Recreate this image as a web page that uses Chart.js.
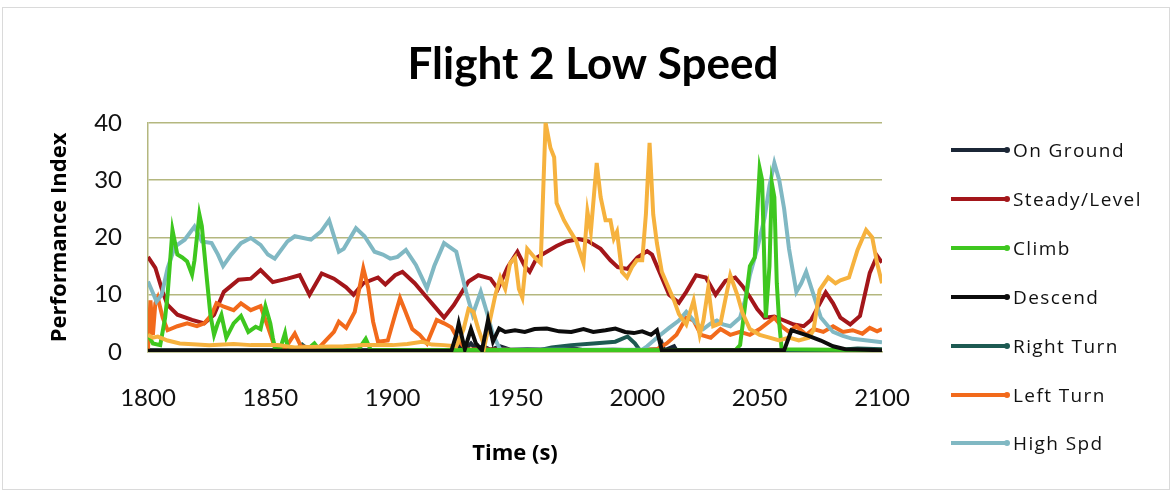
<!DOCTYPE html>
<html>
<head>
<meta charset="utf-8">
<title>Flight 2 Low Speed</title>
<script src="https://cdn.jsdelivr.net/npm/chart.js@4.4.1/dist/chart.umd.min.js"></script>
<style>
  body { margin: 0; background: #fff; }
  #wrap { position: relative; width: 1174px; height: 494px; }
  #frame { position: absolute; left: 2px; top: 7px; width: 1166px; height: 481px; border: 1px solid #dadada; }
  #legend { position: absolute; left: 951px; top: 0; }
  .item { position: absolute; left: 0; height: 26px; display: flex; align-items: center;
          font-family: 'Open Sans', sans-serif; font-size: 19px; letter-spacing: 1.4px; color: #111; white-space: nowrap; }
  .swatch { position: relative; width: 56px; height: 4px; margin-right: 6px; }
  .swatch::after { content: ''; position: absolute; right: -3px; top: -1px; width: 6px; height: 6px; border-radius: 3px; background: inherit; }
</style>
</head>
<body>
<div id="wrap">
  <div id="frame"></div>
  <canvas id="chart"></canvas>
  <div id="legend"></div>
</div>
<script>
// time (s), performance index
const onGround = [[1800,0.3],[1926,0.3],[1928,1.2],[1930,0.6],[1932,1.5],[1934,0.5],[1937,1],[1940,0.4],[1944,1],[1948,0.4],
  [1955,0.5],[1965,0.4],[1972,0.8],[1978,0.3],[1990,0.4],[2000,0.3],[2009,0.5],[2010,1.5],[2011,0.3],[2015,1],[2016,0.3],[2100,0.3]];

const steadyLevel = [[1800,16.6],[1803,14.7],[1806,10.5],[1808,8.2],[1812,6.5],[1818,5.6],[1823,5],[1827,6.5],[1831,10.5],[1837,12.6],
  [1842,12.8],[1846,14.3],[1851,12.2],[1857,12.8],[1862,13.4],[1866,10],[1871,13.7],[1876,12.8],[1881,11.3],[1884,10],
  [1888,12],[1894,13],[1897,11.8],[1901,13.4],[1904,14],[1909,12],[1913,10],[1917,8],[1921,6],[1925,8.2],
  [1931,12.3],[1935,13.4],[1940,12.8],[1943,11],[1947,14.8],[1951,17.5],[1954,15],[1956,14],[1959,16.5],[1963,17.5],
  [1967,18.5],[1971,19.3],[1976,19.7],[1980,19.3],[1985,18],[1989,16],[1992,14.8],[1996,14.5],[2000,16.5],[2004,17.6],
  [2006,17],[2009,14],[2013,10],[2017,8.6],[2020,10.5],[2024,13.4],[2028,13],[2032,10],[2036,12.4],[2040,13],
  [2043,11.5],[2046,9.6],[2049,7.5],[2052,6],[2056,6.2],[2060,5.5],[2064,4.8],[2068,4.5],[2071,5.6],[2074,8],
  [2077,10.4],[2080,8.5],[2083,6],[2087,4.8],[2091,6.3],[2095,13.8],[2098,16.8],[2100,15.6]];

const climb = [[1800,3],[1802,1.5],[1805,1.2],[1807,6],[1808,10],[1810,21.3],[1812,17],[1814,16.5],[1816,15.8],[1818,13.5],
  [1819,16],[1821,24],[1822,22],[1824,13],[1825.5,6.5],[1827,3],[1828.5,5],[1830,6.5],[1832,2.5],[1835,5],
  [1838,6.3],[1841,3.5],[1844,4.4],[1846,4],[1848,8],[1850,5],[1851,2.5],[1852,0.5],[1854,0.5],[1856,3.3],
  [1857,1],[1860,0.5],[1865,0.4],[1868,1.5],[1870,0.4],[1886,0.4],[1889,2.3],[1891,0.4],[2040,0.3],[2042,1.2],
  [2044,8],[2046,15],[2048,16.5],[2050,32],[2051,30],[2052.5,6],[2054,15],[2055,29.4],[2056,27],[2057,12],
  [2058,5],[2059,0.5],[2100,0.3]];

const descend = [[1800,0.2],[1924,0.2],[1926,3],[1927,5],[1929.5,0.5],[1932,4],[1934,1.5],[1936.5,0.3],[1939,5.6],[1941,1.8],
  [1943.5,4.1],[1946,3.5],[1950,3.8],[1954,3.5],[1958,4],[1963,4.1],[1968,3.6],[1973,3.5],[1978,4],[1982,3.5],
  [1987,3.8],[1991,4.1],[1995,3.5],[1998.6,3.3],[2002,3.6],[2005.6,3],[2008,3.8],[2010,0.3],[2060,0.3],[2063,3.8],
  [2070,2.8],[2075,2],[2080,1],[2085,0.5],[2100,0.3]];

const rightTurn = [[1800,0.2],[1860,0.2],[1863,1.3],[1866,0.2],[1960,0.3],[1965,0.8],[1973,1.2],[1982,1.5],[1991,1.8],[1996,2.7],
  [1999,1.5],[2001,0.3],[2080,0.3],[2090,0.6],[2100,0.5]];

const leftTurn = [[1800,0.5],[1801,9],[1802,3],[1803,8.5],[1804,9.5],[1806,6],[1808,3.8],[1812,4.5],[1816,5],[1820,4.5],
  [1823,5],[1826,6.5],[1828,8.5],[1831,7.9],[1835,7.3],[1838,8.5],[1842,7.3],[1846,8],[1849,4.4],[1852,0.6],
  [1856,0.6],[1860,3.2],[1862.5,1],[1869.5,0.6],[1876,3.5],[1878,5.3],[1881,4.2],[1884.5,7],[1888,14.6],[1890,11.2],
  [1892,5.3],[1894,1.8],[1898,2],[1901,6.5],[1903,9.4],[1905,7.3],[1908,4],[1911,3],[1914,1.5],[1918,5.6],
  [1921,5],[1924,4.3],[1927,2],[1930,0.5],[1960,0.3],[2000,0.3],[2008,0.5],[2012,1.5],[2016,3],[2020,6],
  [2023,5.5],[2026,3],[2030,2.5],[2034,4],[2038,3],[2042,3.5],[2046,3],[2050,4],[2053,5],[2056,6],
  [2059,4.5],[2062,3.5],[2065,4.5],[2069,3],[2072,4],[2076,3.5],[2080,4.5],[2084,3.5],[2088,3.8],[2092,3.2],
  [2095,4.2],[2098,3.6],[2100,4]];

const highSpd = [[1800,12.3],[1803.5,8.8],[1805.6,10],[1808,14.6],[1811,18.4],[1815,19.6],[1819,21.9],[1822,19.3],[1826,19],[1828.6,17],
  [1830.7,15],[1834,17],[1838,19],[1842,19.9],[1846,18.7],[1849,17],[1851.8,16.3],[1857,19.3],[1860,20.2],[1866.6,19.6],
  [1870.7,21],[1874,23],[1878,17.5],[1880,18],[1885,21.6],[1888.5,20.2],[1892.6,17.5],[1896,17],[1899,16.3],[1902,16.6],
  [1905.4,17.8],[1909.5,15.2],[1914,11.1],[1917,15],[1921,19],[1926,17.5],[1930,10.5],[1932.7,6.5],[1936,10.5],[1938.8,6.5],
  [1941,3],[1944,0.4],[2002,0.4],[2004,1],[2008,2.5],[2013,4.2],[2017,5.5],[2020,7],[2024,5],[2027,4],
  [2030,5],[2032.5,5.5],[2035,4.8],[2038,4.5],[2042,6],[2044,9],[2046,13.4],[2049,18],[2052,23.4],[2054,29],
  [2056,33],[2058,30],[2060,25],[2062,18],[2065,10.5],[2067,12],[2069,14],[2072,10],[2075,6],[2078,4.5],
  [2080,3.5],[2084,2.8],[2088,2.3],[2094,2],[2100,1.7]];

// gold series without a legend entry
const series8 = [[1800,3],[1802,2.5],[1804,2.7],[1808,2],[1813,1.5],[1820,1.3],[1825,1.2],[1835,1.4],[1842,1.2],[1853,1.2],
  [1860,0.8],[1870,0.9],[1880,1],[1888,1.2],[1900,1.2],[1906,1.4],[1912,1.8],[1916,1.3],[1921,1.2],[1926,1],
  [1929,4],[1931,7.5],[1933,7],[1935,4],[1937.5,1],[1940,6],[1942,10],[1944,13],[1946,11],[1948,15.5],
  [1950,16.5],[1951.6,11],[1953,9.5],[1955,18],[1958,16.5],[1960.5,15.5],[1962.5,40],[1964.5,35.6],[1966,34],[1967,26],
  [1970,23],[1972.7,21],[1975,19.4],[1978,15.5],[1979.6,24.5],[1981,21],[1983.4,33],[1985,27],[1987,23],[1989,23],
  [1990.4,19.8],[1991.7,21],[1993.7,14],[1995.8,13],[1997.8,14.8],[1999.8,16],[2002,16],[2003.5,24],[2005,36.5],[2006.5,24],
  [2008,19],[2010,14],[2012,12],[2015,9],[2017,6.6],[2020,4.8],[2023,9],[2025.5,3],[2027,5.5],[2029,11.2],
  [2031,4.5],[2034,5],[2038,13.4],[2041,9.8],[2043,6.8],[2046,4],[2050,3],[2054,2.5],[2058,2],[2062,2.5],
  [2066,2],[2070,2.5],[2072,3.8],[2074.5,10.8],[2078,13],[2081,12],[2083,12.5],[2086.5,13],[2090,17.8],[2093.5,21.3],
  [2096,20],[2098,15.5],[2100,12]];

const xTicks = [1800, 1850, 1900, 1950, 2000, 2050, 2100];
const yTicks = [0, 10, 20, 30, 40];

const names  = ['On Ground', 'Steady/Level', 'Climb', 'Descend', 'Right Turn', 'Left Turn', 'High Spd', ''];
const values = [onGround, steadyLevel, climb, descend, rightTurn, leftTurn, highSpd, series8];
const colors = ['#1b2636', '#a3161a', '#3ec71f', '#0c0c0c', '#1d5a52', '#f26a1b', '#80b8c3', '#f6b23e'];
const layer  = [8, 6, 3, 1, 7, 5, 4, 2]; // lower = drawn on top

const datasets = names.map((name, i) => ({
    label: name,
    data: values[i].map(p => ({ x: p[0], y: p[1] })),
    borderColor: colors[i],
    backgroundColor: colors[i],
    borderWidth: 4,
    pointRadius: 0,
    tension: 0,
    fill: false,
    order: layer[i]
}));

const grid = '#b4b77f';

new Chart(document.getElementById('chart'), {
    type: 'line',
    data: { datasets: datasets },
    options: {
        responsive: true,
        maintainAspectRatio: false,
        animation: false,
        layout: { padding: { left: 12, right: 0, top: 0, bottom: 0 } },
        plugins: {
            legend: { display: false },
            tooltip: { enabled: false },
            title: {
                display: true,
                text: 'Flight 2 Low Speed',
                color: '#000',
                font: { family: 'Lato', size: 44, weight: 'bold' },
                padding: { top: 38, bottom: 32 }
            }
        },
        scales: {
            x: {
                type: 'linear',
                min: 1800,
                max: 2100,
                afterBuildTicks: s => { s.ticks = xTicks.map(v => ({ value: v })); },
                afterFit: s => { s.height = 142; },
                grid: { display: false, drawTicks: false },
                border: { display: true, color: grid, width: 1.5 },
                ticks: { padding: 32, color: '#111', font: { family: 'Lato', size: 24 }, callback: v => String(v) },
                title: {
                    display: true,
                    text: 'Time (s)',
                    color: '#000',
                    font: { family: 'Open Sans', size: 22, weight: 'bold' },
                    padding: { top: 0, bottom: 27 }
                }
            },
            y: {
                min: 0,
                max: 40,
                afterBuildTicks: s => { s.ticks = yTicks.map(v => ({ value: v })); },
                afterFit: s => { s.width = 136; },
                grid: { color: grid, lineWidth: 1.5, drawTicks: false },
                border: { display: true, color: grid, width: 1.5 },
                ticks: { padding: 26, color: '#111', font: { family: 'Lato', size: 24 }, callback: v => String(v) },
                title: {
                    display: true,
                    text: 'Performance Index',
                    color: '#000',
                    font: { family: 'Open Sans', size: 22, weight: 'bold' },
                    padding: { top: 35, bottom: 0 }
                }
            },
            // empty box that keeps room for the legend on the right
            side: {
                position: 'right',
                display: true,
                grid: { display: false },
                border: { display: false },
                ticks: { display: false },
                afterFit: s => { s.width = 292; }
            }
        }
    }
});

// legend
const legend = document.getElementById('legend');
names.forEach((name, i) => {
    if (!name) return;
    const row = document.createElement('div');
    row.className = 'item';
    row.style.top = (150 - 13 + i * 48.9) + 'px';
    const sw = document.createElement('span');
    sw.className = 'swatch';
    sw.style.background = colors[i];
    const txt = document.createElement('span');
    txt.textContent = name;
    row.appendChild(sw);
    row.appendChild(txt);
    legend.appendChild(row);
});
</script>
</body>
</html>
